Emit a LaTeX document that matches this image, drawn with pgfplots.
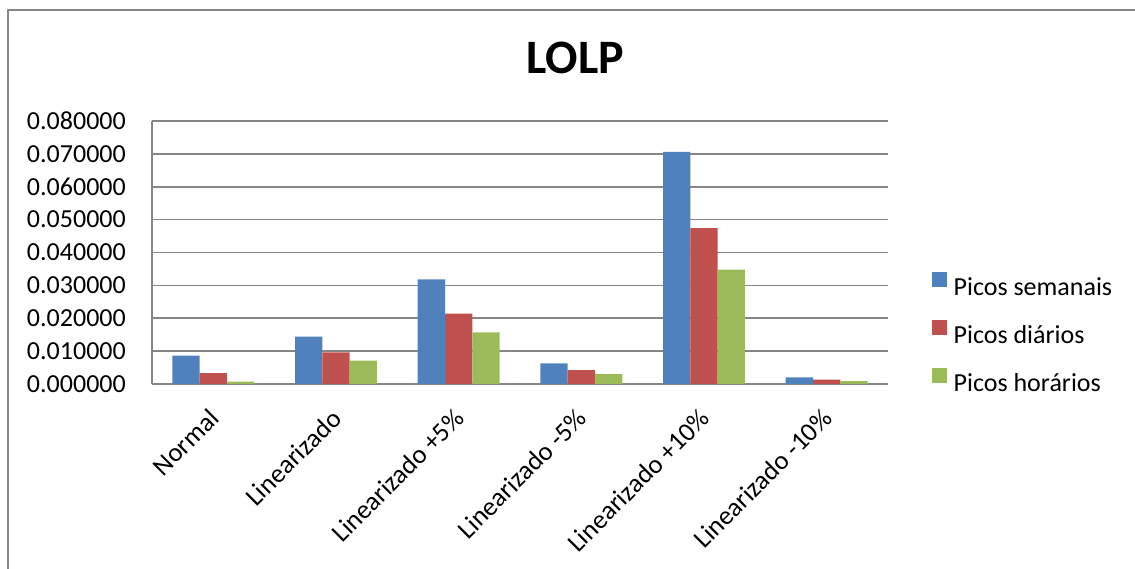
\documentclass[border=0pt]{standalone}
\usepackage{fontspec}
\setmainfont{Carlito}
\usepackage{pgfplots}
\pgfplotsset{compat=1.18}
\definecolor{cblue}{HTML}{4F81BD}
\definecolor{cred}{HTML}{C0504D}
\definecolor{cgreen}{HTML}{9BBB59}
\definecolor{cgrid}{HTML}{868686}
\newcommand\lbl{\fontsize{26}{31}\selectfont}
\begin{document}
\begin{tikzpicture}
\begin{axis}[
  at={(0,0)}, anchor=south west,
  scale only axis, width=736pt, height=263pt,
  xmin=-0.5, xmax=5.5, ymin=0, ymax=0.08,
  ybar=0pt, bar width=27.3pt,
  axis lines*=left, axis line style={cgrid, line width=1.5pt},
  ymajorgrids, grid style={cgrid, line width=1.5pt},
  major tick length=0pt,
  scaled y ticks=false,
  xtick={0,1,2,3,4,5},
  xticklabels={Normal, Linearizado, Linearizado +5\%, Linearizado -5\%, Linearizado +10\%, Linearizado -10\%},
  xticklabel style={font=\fontsize{26.5}{31}\selectfont, inner sep=0pt, yshift=-23pt, xshift=-6pt, anchor=north east, rotate=45},
  ytick={0,0.01,0.02,0.03,0.04,0.05,0.06,0.07,0.08},
  yticklabels={0.000000,0.010000,0.020000,0.030000,0.040000,0.050000,0.060000,0.070000,0.080000},
  yticklabel style={font=\lbl, inner sep=0pt, xshift=-26pt, anchor=east},
  legend style={draw=none, fill=none, at={(axis description cs:1.055,0.433)}, anchor=north west,
    font=\lbl, row sep=23pt, nodes={inner sep=0pt},
    /tikz/every odd column/.append style={column sep=7pt}},
  legend cell align=left,
  legend image code/.code={\fill[#1,draw=none] (0pt,0pt) rectangle (15pt,15pt);},
]
\addplot[fill=cblue, draw=none] coordinates {(0,0.0086) (1,0.0144) (2,0.0318) (3,0.0063) (4,0.0706) (5,0.0020)};
\addplot[fill=cred, draw=none] coordinates {(0,0.0033) (1,0.0096) (2,0.0214) (3,0.0042) (4,0.0474) (5,0.0013)};
\addplot[fill=cgreen, draw=none] coordinates {(0,0.0007) (1,0.0071) (2,0.0157) (3,0.0030) (4,0.0348) (5,0.0009)};
\legend{Picos semanais, Picos diários, Picos horários}
\end{axis}
\node[font=\fontsize{48}{58}\selectfont\bfseries] at (423pt,326pt) {LOLP};
\draw[cgrid, line width=2pt] (-144.3pt,-190pt) -- (-144.3pt,374.2pt) -- (990pt,374.2pt);
\pgfresetboundingbox
\path (-152pt,-185pt) rectangle (983pt,384pt);
\end{tikzpicture}
\end{document}
